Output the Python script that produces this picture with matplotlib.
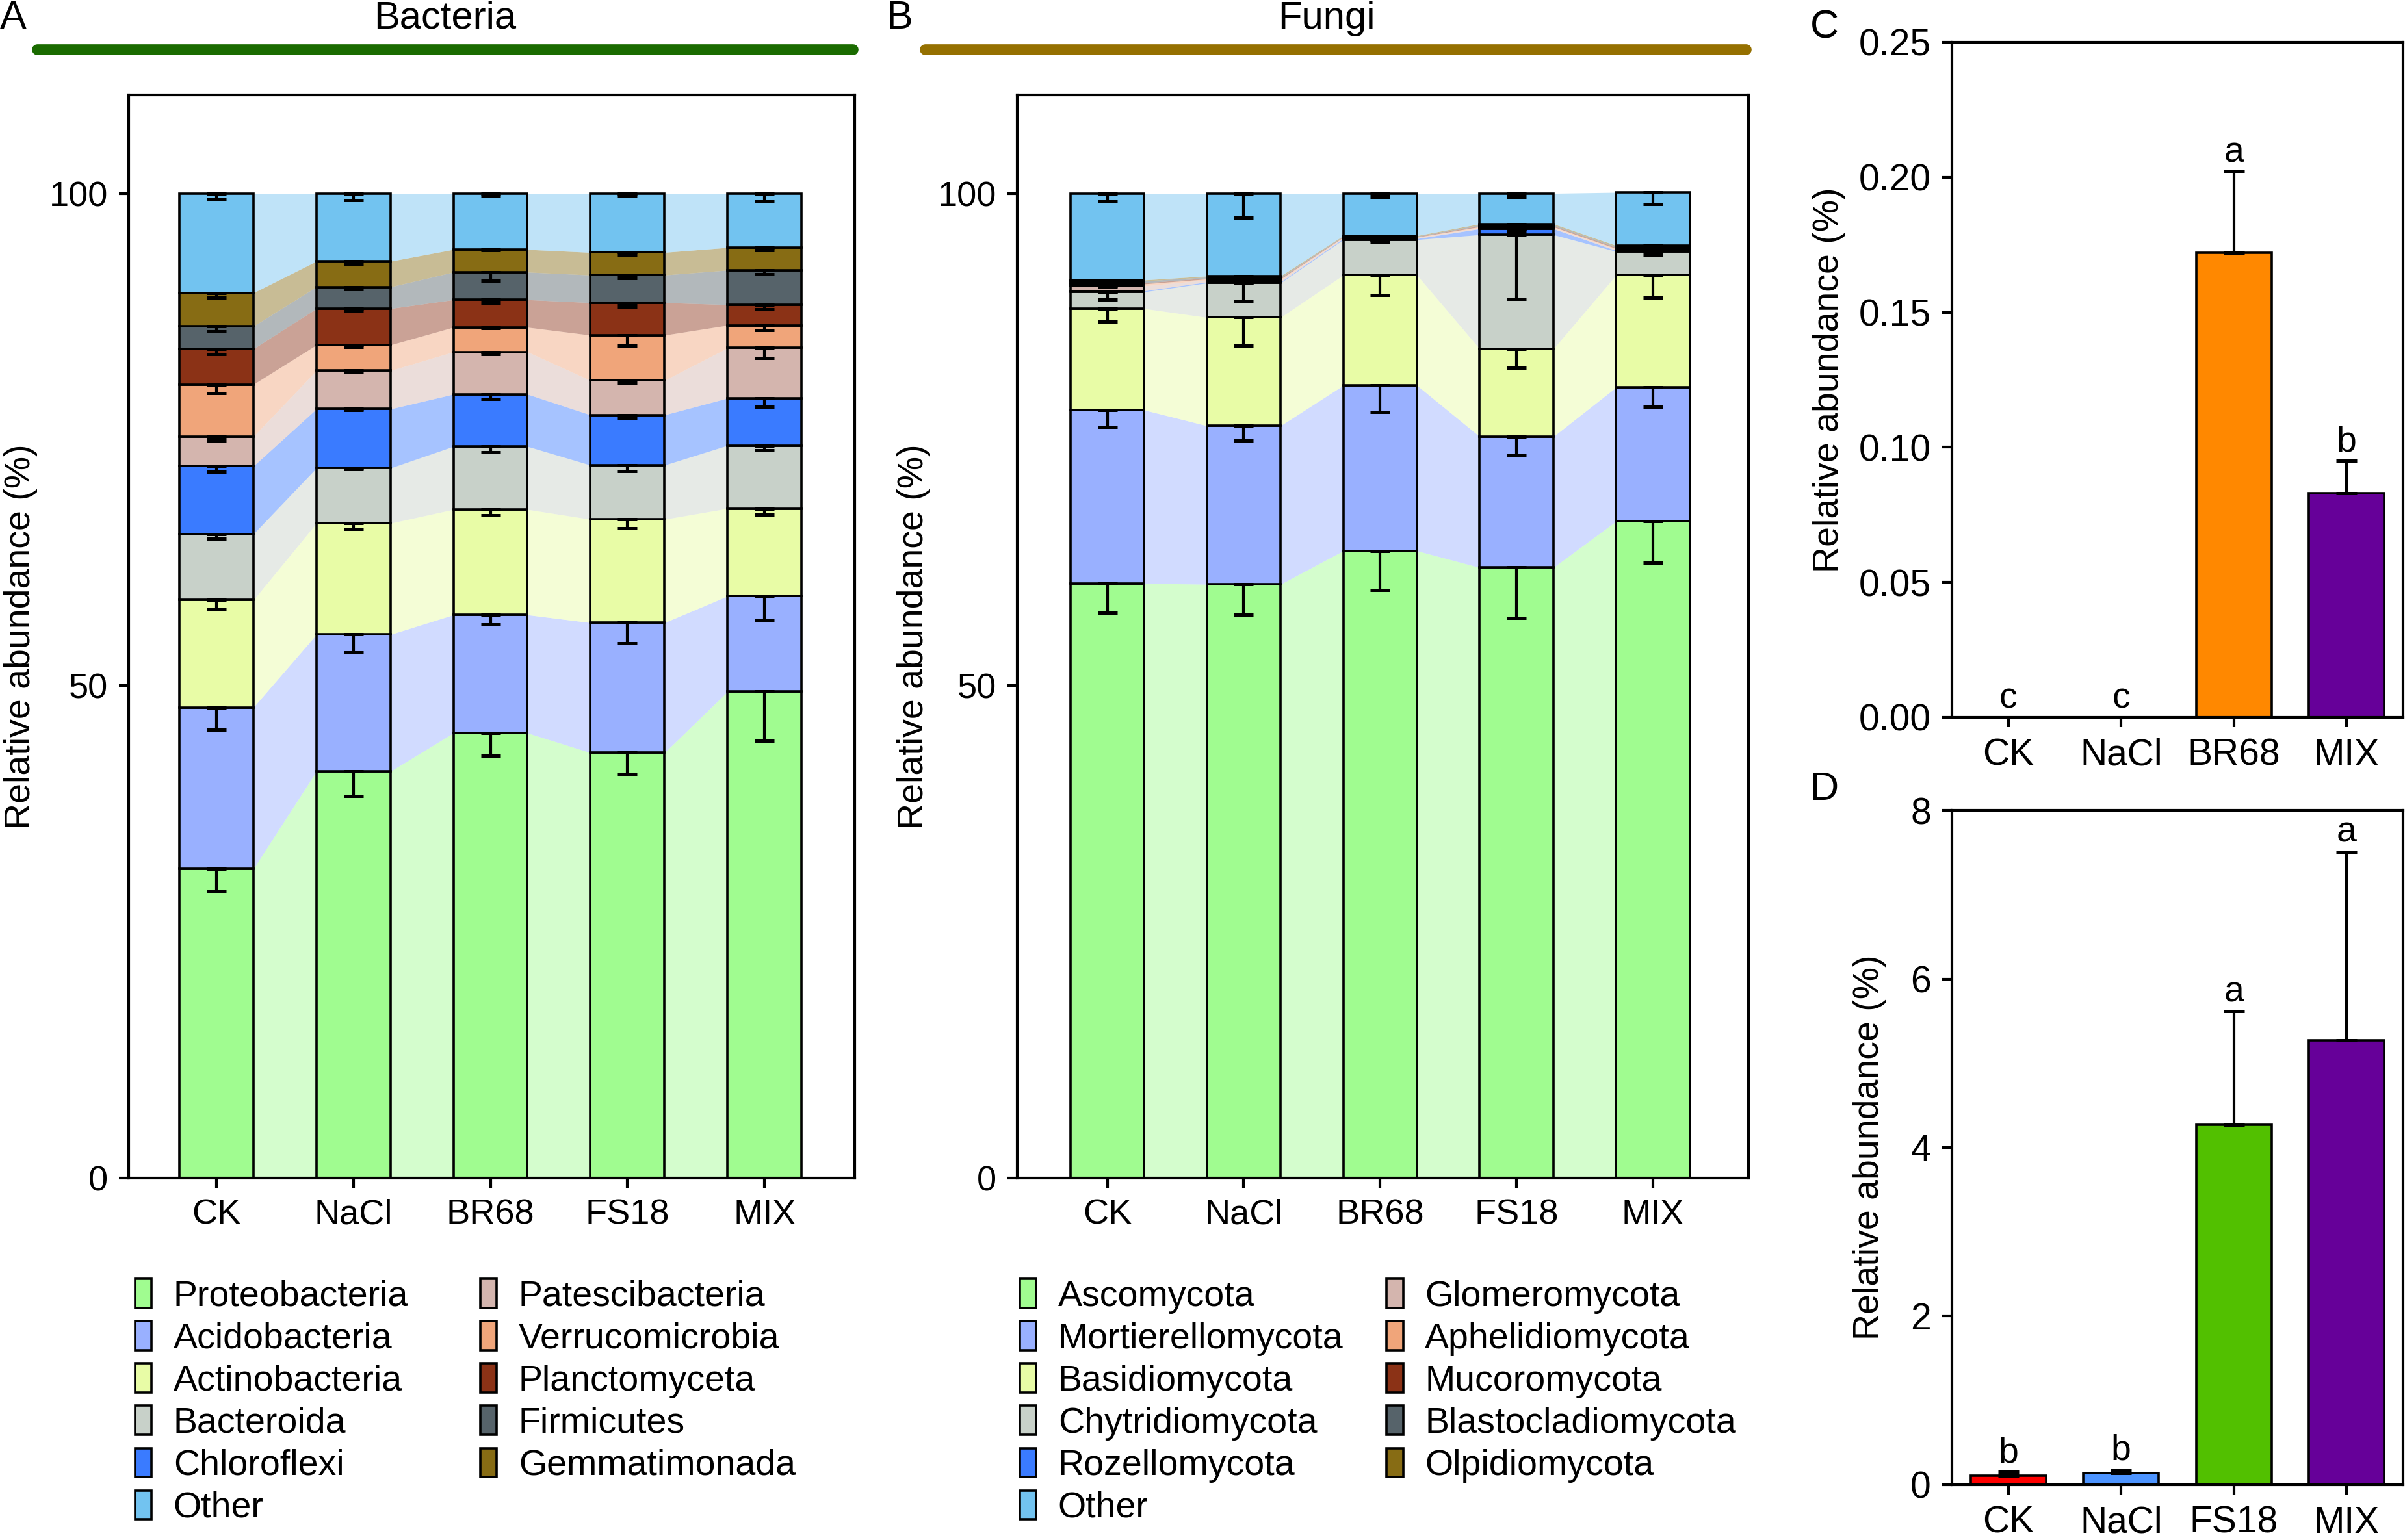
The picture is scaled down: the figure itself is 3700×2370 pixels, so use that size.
import numpy as np
import matplotlib
matplotlib.use("Agg")
import matplotlib.pyplot as plt
from matplotlib.patches import Patch
from matplotlib.lines import Line2D

plt.rcParams['font.family'] = ['Liberation Sans', 'DejaVu Sans']

groups = ['CK', 'NaCl', 'BR68', 'FS18', 'MIX']
tax_colors = ['#A0FC90', '#99B0FF', '#E8FCA6', '#C8D1C9', '#3A7BFF', '#D4B5AE',
              '#F0A57A', '#8B3216', '#56636A', '#876C14', '#72C3F0']

# bacteria, bottom -> top
bac_taxa = ['Proteobacteria', 'Acidobacteria', 'Actinobacteria', 'Bacteroida', 'Chloroflexi',
            'Patescibacteria', 'Verrucomicrobia', 'Planctomyceta', 'Firmicutes', 'Gemmatimonada', 'Other']
bac_mean = [
    [31.4, 41.3, 45.2, 43.2, 49.4],
    [16.4, 13.9, 12.0, 13.2, 9.7],
    [10.9, 11.3, 10.7, 10.5, 8.9],
    [6.7, 5.6, 6.4, 5.5, 6.4],
    [6.9, 6.0, 5.3, 5.1, 4.8],
    [3.0, 3.9, 4.3, 3.5, 5.1],
    [5.3, 2.6, 2.5, 4.6, 2.3],
    [3.6, 3.7, 2.8, 3.3, 2.1],
    [2.3, 2.2, 2.8, 2.8, 3.5],
    [3.4, 2.6, 2.3, 2.3, 2.3],
    [10.1, 6.9, 5.7, 6.0, 5.5],
]
bac_err = [
    [2.3, 2.5, 2.3, 2.2, 5.0],
    [2.3, 1.8, 1.0, 2.1, 2.4],
    [0.9, 0.6, 0.6, 0.9, 0.6],
    [0.5, 0.1, 0.6, 0.6, 0.5],
    [0.6, 0.1, 0.5, 0.3, 0.9],
    [0.4, 0.2, 0.2, 0.3, 1.0],
    [0.9, 0.2, 0.1, 1.1, 0.5],
    [0.5, 0.3, 0.3, 0.4, 0.5],
    [0.5, 0.2, 0.9, 0.3, 0.4],
    [0.5, 0.3, 0.1, 0.2, 0.3],
    [0.6, 0.7, 0.3, 0.2, 0.8],
]

# fungi, bottom -> top
fun_taxa = ['Ascomycota', 'Mortierellomycota', 'Basidiomycota', 'Chytridiomycota', 'Rozellomycota',
            'Glomeromycota', 'Aphelidiomycota', 'Mucoromycota', 'Blastocladiomycota', 'Olpidiomycota', 'Other']
fun_mean = [
    [60.4, 60.3, 63.7, 62.0, 66.7],
    [17.6, 16.1, 16.8, 13.3, 13.6],
    [10.3, 11.0, 11.2, 8.9, 11.4],
    [1.7, 3.5, 3.6, 11.6, 2.4],
    [0.1, 0.1, 0.1, 0.6, 0.1],
    [0.5, 0.2, 0.1, 0.1, 0.1],
    [0.2, 0.1, 0.05, 0.1, 0.1],
    [0.1, 0.1, 0.05, 0.1, 0.1],
    [0.2, 0.1, 0.05, 0.1, 0.1],
    [0.1, 0.1, 0.05, 0.1, 0.1],
    [8.8, 8.4, 4.3, 3.1, 5.4],
]
fun_err = [
    [3.0, 3.1, 4.0, 5.1, 4.2],
    [1.7, 1.5, 2.7, 1.9, 2.0],
    [1.3, 2.9, 2.0, 1.9, 2.3],
    [0.8, 1.8, 0.2, 6.5, 0.3],
    [0.1, 0.1, 0.1, 0.2, 0.1],
    [0.1, 0.1, 0.1, 0.1, 0.1],
    [0.1, 0.1, 0.05, 0.1, 0.1],
    [0.1, 0.1, 0.05, 0.1, 0.1],
    [0.1, 0.1, 0.05, 0.1, 0.1],
    [0.1, 0.1, 0.05, 0.1, 0.1],
    [0.8, 2.5, 0.4, 0.4, 1.2],
]

# panel C / D
c_groups = ['CK', 'NaCl', 'BR68', 'MIX']
c_vals = [0.0, 0.0, 0.172, 0.083]
c_err = [0.0, 0.0, 0.030, 0.012]
c_letters = ['c', 'c', 'a', 'b']
c_colors = ['#FF0000', '#4D94FF', '#FF8800', '#660099']

d_groups = ['CK', 'NaCl', 'FS18', 'MIX']
d_vals = [0.11, 0.14, 4.27, 5.27]
d_err = [0.04, 0.04, 1.35, 2.24]
d_letters = ['b', 'b', 'a', 'a']
d_colors = ['#FF0000', '#4D94FF', '#52C000', '#660099']

FS = 19.5
LW = 1.3


def style_axes(ax, fs):
    for s in ax.spines.values():
        s.set_linewidth(1.5)
    ax.tick_params(direction='out', length=5.5, width=1.5, labelsize=fs, pad=6)


def stacked(ax, mean, err, xlim):
    mean = np.array(mean)
    err = np.array(err)
    x = np.arange(mean.shape[1])
    w = 0.54
    tops = np.cumsum(mean, axis=0)
    bots = tops - mean
    for k in range(mean.shape[0]):
        # flow bands between bars
        for i in range(len(x) - 1):
            ax.fill_between([x[i] + w / 2, x[i + 1] - w / 2],
                            [bots[k, i], bots[k, i + 1]], [tops[k, i], tops[k, i + 1]],
                            color=tax_colors[k], alpha=0.45, lw=0, zorder=1)
        ax.bar(x, mean[k], w, bottom=bots[k], color=tax_colors[k],
               edgecolor='black', linewidth=LW, zorder=2)
        ax.errorbar(x, tops[k], yerr=[err[k], np.zeros(len(x))], fmt='none',
                    ecolor='black', elinewidth=1.5, capsize=5.5, capthick=1.8, zorder=3)
    ax.set_xlim(*xlim)
    ax.set_ylim(0, 110)
    ax.set_yticks([0, 50, 100])
    ax.set_xticks(x)
    ax.set_xticklabels(groups)
    ax.set_ylabel('Relative abundance (%)', fontsize=20)
    style_axes(ax, FS)


def simple(ax, names, vals, err, letters, colors, ylim, yticks, fmt):
    x = np.arange(len(names))
    ax.bar(x, vals, 0.67, color=colors, edgecolor='black', linewidth=LW, zorder=2)
    ax.errorbar(x, vals, yerr=[np.zeros(len(x)), err], fmt='none', ecolor='black',
                elinewidth=1.5, capsize=5.8, capthick=1.8, zorder=3)
    for xi, v, e, lab in zip(x, vals, err, letters):
        ax.annotate(lab, (xi, v + e), xytext=(0, 1), textcoords='offset points',
                    ha='center', va='bottom', fontsize=20)
    ax.set_xlim(-0.5, len(x) - 0.5)
    ax.set_ylim(*ylim)
    ax.set_yticks(yticks)
    ax.set_yticklabels([fmt.format(t) for t in yticks])
    ax.set_xticks(x)
    ax.set_xticklabels(names)
    ax.set_ylabel('Relative abundance (%)', fontsize=20)
    style_axes(ax, 20.5)


fig = plt.figure(figsize=(18.5, 11.85), dpi=200)

axA = fig.add_axes([0.0535, 0.235, 0.302, 0.7034])
stacked(axA, bac_mean, bac_err, (-0.64, 4.66))
axA.yaxis.set_label_coords(-0.125, 0.5)

axB = fig.add_axes([0.423, 0.235, 0.304, 0.7034])
stacked(axB, fun_mean, fun_err, (-0.66, 4.70))
axB.yaxis.set_label_coords(-0.118, 0.5)

axC = fig.add_axes([0.8116, 0.5342, 0.1876, 0.4384])
simple(axC, c_groups, c_vals, c_err, c_letters, c_colors, (0, 0.25),
       [0, 0.05, 0.10, 0.15, 0.20, 0.25], '{:.2f}')
axC.yaxis.set_label_coords(-0.235, 0.5)

axD = fig.add_axes([0.8116, 0.0359, 0.1876, 0.4379])
simple(axD, d_groups, d_vals, d_err, d_letters, d_colors, (0, 8),
       [0, 2, 4, 6, 8], '{:g}')
axD.yaxis.set_label_coords(-0.145, 0.5)

# headers
fig.text(0.185, 0.988, 'Bacteria', ha='center', va='center', fontsize=21.5)
fig.add_artist(Line2D([0.0154, 0.3546], [0.968, 0.968], color='#1A6B00', lw=6, solid_capstyle='round'))
fig.text(0.5515, 0.988, 'Fungi', ha='center', va='center', fontsize=21.5)
fig.add_artist(Line2D([0.3846, 0.726], [0.968, 0.968], color='#957000', lw=6, solid_capstyle='round'))

fig.text(0.0, 0.988, 'A', ha='left', va='center', fontsize=22)
fig.text(0.3686, 0.988, 'B', ha='left', va='center', fontsize=22)
fig.text(0.7527, 0.982, 'C', ha='left', va='center', fontsize=22)
fig.text(0.7527, 0.4873, 'D', ha='left', va='center', fontsize=22)


def legend_col(names, cols, x, y):
    handles = [Patch(facecolor=c, edgecolor='black', linewidth=LW) for c in cols]
    leg = fig.legend(handles, names, loc='upper left', bbox_to_anchor=(x, y), frameon=False,
                     fontsize=20, handlelength=0.46, handleheight=0.85, handletextpad=0.6,
                     labelspacing=0.21, borderpad=0, borderaxespad=0)
    return leg


legend_col(bac_taxa[:5] + ['Other'], tax_colors[:5] + [tax_colors[10]], 0.0562, 0.1695)
legend_col(bac_taxa[5:10], tax_colors[5:10], 0.1997, 0.1695)
legend_col(fun_taxa[:5] + ['Other'], tax_colors[:5] + [tax_colors[10]], 0.424, 0.1695)
legend_col(fun_taxa[5:10], tax_colors[5:10], 0.5766, 0.1695)

fig.savefig('out.png', dpi=200)
